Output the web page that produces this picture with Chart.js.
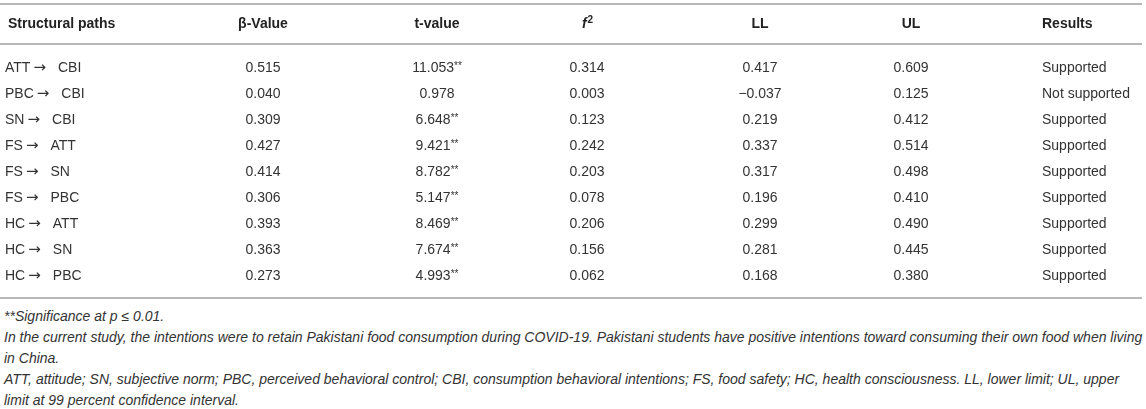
<!DOCTYPE html>
<html>
<head>
<meta charset="utf-8">
<script src="https://cdn.jsdelivr.net/npm/chart.js@4.4.1/dist/chart.umd.min.js"></script>
<style>
  html, body { margin: 0; padding: 0; background: #fff; }
  #wrap { position: relative; width: 1146px; height: 300px; }
  .notes { font-family: "Liberation Sans", Arial, sans-serif; font-style: italic; font-size: 14px;
           line-height: 21px; color: #333; padding: 6px 0 0 4px; width: 1140px; }
  .notes div { white-space: nowrap; }
</style>
</head>
<body>
<div id="wrap"><canvas id="table"></canvas></div>
<div class="notes">
  <div>**Significance at <span>p</span> &le; 0.01.</div>
  <div>In the current study, the intentions were to retain Pakistani food consumption during COVID-19. Pakistani students have positive intentions toward consuming their own food when living</div>
  <div>in China.</div>
  <div>ATT, attitude; SN, subjective norm; PBC, perceived behavioral control; CBI, consumption behavioral intentions; FS, food safety; HC, health consciousness. LL, lower limit; UL, upper</div>
  <div>limit at 99 percent confidence interval.</div>
</div>
<script>
// table values
const pathFrom = ['ATT', 'PBC', 'SN', 'FS', 'FS', 'FS', 'HC', 'HC', 'HC'];
const pathTo = ['CBI', 'CBI', 'CBI', 'ATT', 'SN', 'PBC', 'ATT', 'SN', 'PBC'];
const betaValues = [0.515, 0.040, 0.309, 0.427, 0.414, 0.306, 0.393, 0.363, 0.273];
const tValues = [11.053, 0.978, 6.648, 9.421, 8.782, 5.147, 8.469, 7.674, 4.993];
const tSignificant = [true, false, true, true, true, true, true, true, true];
const f2Values = [0.314, 0.003, 0.123, 0.242, 0.203, 0.078, 0.206, 0.156, 0.062];
const lowerLimits = [0.417, -0.037, 0.219, 0.337, 0.317, 0.196, 0.299, 0.281, 0.168];
const upperLimits = [0.609, 0.125, 0.412, 0.514, 0.498, 0.410, 0.490, 0.445, 0.380];
const results = ['Supported', 'Not supported', 'Supported', 'Supported', 'Supported',
                 'Supported', 'Supported', 'Supported', 'Supported'];
const headers = ['Structural paths', '\u03b2-Value', 't-value', 'f2', 'LL', 'UL', 'Results'];

const fmt = v => v.toFixed(3).replace('-', '\u2212');

const cellText = [
  pathFrom.map((f, i) => f + ' \u2192  ' + pathTo[i]),
  betaValues.map(fmt),
  tValues.map(fmt),
  f2Values.map(fmt),
  lowerLimits.map(fmt),
  upperLimits.map(fmt),
  results
];

// layout: where each column sits and how it is aligned
const columns = [
  { x: 5, hx: 8, align: 'left' },
  { x: 263, align: 'center' },
  { x: 437, align: 'center' },
  { x: 587, align: 'center' },
  { x: 760, align: 'center' },
  { x: 911, align: 'center' },
  { x: 1042, align: 'left' }
];

const FONT = '"Liberation Sans", Arial, sans-serif';

const tablePlugin = {
  id: 'tablePlugin',
  afterDatasetsDraw(chart) {
    const ctx = chart.ctx;
    const area = chart.chartArea;
    ctx.save();

    // rules
    ctx.strokeStyle = '#b8b8b8';
    ctx.lineWidth = 2;
    [area.top - 51, area.top - 11, area.bottom + 9].forEach(y => {
      ctx.beginPath();
      ctx.moveTo(0, y);
      ctx.lineTo(1142, y);
      ctx.stroke();
    });

    // header row
    const hy = area.top - 31;
    ctx.textBaseline = 'middle';
    ctx.fillStyle = '#222';
    headers.forEach((h, c) => {
      const col = columns[c];
      if (h === 'f2') {
        ctx.font = 'italic bold 14px ' + FONT;
        const w1 = ctx.measureText('f').width;
        ctx.font = 'bold 10px ' + FONT;
        const w2 = ctx.measureText('2').width;
        const x0 = col.x - (w1 + w2) / 2;
        ctx.textAlign = 'left';
        ctx.font = 'italic bold 14px ' + FONT;
        ctx.fillText('f', x0, hy);
        ctx.font = 'bold 10px ' + FONT;
        ctx.fillText('2', x0 + w1 + 1, hy - 4);
        return;
      }
      ctx.font = 'bold 14px ' + FONT;
      ctx.textAlign = col.align;
      ctx.fillText(h, col.hx !== undefined ? col.hx : col.x, hy);
    });

    // body cells, placed at each dataset point
    ctx.fillStyle = '#333';
    chart.data.datasets.forEach((ds, c) => {
      const meta = chart.getDatasetMeta(c);
      meta.data.forEach((pt, i) => {
        const text = cellText[c][i];
        ctx.textAlign = 'left';
        if (c === 0) {
          // path: source, a wider arrow, target
          ctx.font = '14px ' + FONT;
          ctx.fillText(pathFrom[i], pt.x, pt.y);
          let x = pt.x + ctx.measureText(pathFrom[i]).width + 3;
          ctx.font = '15px "DejaVu Sans", sans-serif';
          ctx.fillText('\u2192', x, pt.y);
          x += ctx.measureText('\u2192').width + 12;
          ctx.font = '14px ' + FONT;
          ctx.fillText(pathTo[i], x, pt.y);
          return;
        }
        if (c === 2) {
          ctx.font = '14px ' + FONT;
          const w1 = ctx.measureText(text).width;
          const stars = tSignificant[i] ? '**' : '';
          ctx.font = '10px ' + FONT;
          const w2 = ctx.measureText(stars).width;
          const x0 = pt.x - (w1 + w2) / 2;
          ctx.font = '14px ' + FONT;
          ctx.fillText(text, x0, pt.y);
          ctx.font = '10px ' + FONT;
          ctx.fillText(stars, x0 + w1, pt.y - 2);
          return;
        }
        ctx.font = '14px ' + FONT;
        ctx.textAlign = columns[c].align;
        ctx.fillText(text, pt.x, pt.y);
      });
    });
    ctx.restore();
  }
};

const datasets = cellText.map((col, c) => ({
  label: headers[c],
  data: col.map((_, i) => ({ x: columns[c].x, y: i + 1 })),
  pointRadius: 0,
  pointHoverRadius: 0
}));

new Chart(document.getElementById('table'), {
  type: 'scatter',
  data: { datasets: datasets },
  options: {
    responsive: true,
    maintainAspectRatio: false,
    animation: false,
    events: [],
    layout: { padding: { top: 55, bottom: 11, left: 0, right: 0 } },
    plugins: { legend: { display: false }, tooltip: { enabled: false } },
    scales: {
      x: { type: 'linear', min: 0, max: 1146, display: false },
      y: { type: 'linear', min: 0.5, max: 9.5, reverse: true, display: false }
    }
  },
  plugins: [tablePlugin]
});
</script>
</body>
</html>
